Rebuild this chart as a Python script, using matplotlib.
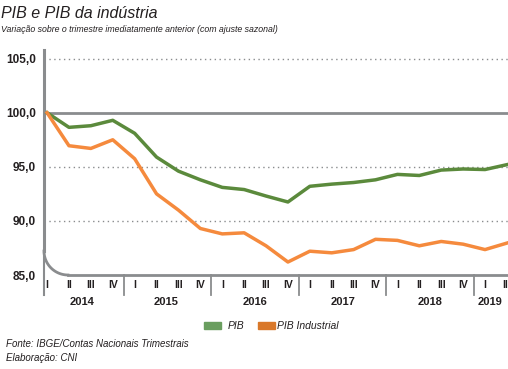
import numpy as np
import matplotlib.pyplot as plt
from matplotlib.patches import Rectangle

# quarterly index, 1st quarter 2014 = 100
quarters = ["I", "II", "III", "IV"] * 5 + ["I", "II"]
years = ["2014", "2015", "2016", "2017", "2018", "2019"]
pib = [100.0, 98.65, 98.8, 99.3, 98.1, 95.9, 94.6, 93.8, 93.1, 92.9, 92.3,
       91.75, 93.2, 93.4, 93.55, 93.8, 94.3, 94.2, 94.7, 94.8, 94.75, 95.2]
pib_ind = [100.0, 96.95, 96.7, 97.5, 95.75, 92.5, 91.0, 89.3, 88.8, 88.9,
           87.7, 86.2, 87.2, 87.05, 87.35, 88.3, 88.2, 87.7, 88.1, 87.85,
           87.35, 87.95]
yticks = [85, 90, 95, 100, 105]

GRAY = '#8a8c8e'
GREEN = '#5b8a3c'
ORANGE = '#f58a3d'
TXT = '#231f20'

plt.rcParams['font.family'] = ['Liberation Sans', 'DejaVu Sans']

fig = plt.figure(figsize=(5.08, 3.69), dpi=100)
W, H = 508, 369
# axes placed in pixel terms: left 44, right 508, top 50, bottom 275
ax = fig.add_axes([44 / W, 1 - 275 / H, (508 - 44) / W, (275 - 50) / H])

x = np.arange(len(pib))
x0, x1 = -0.14, 21.05
y0, y1 = 85, 105.8
ax.set_xlim(x0, x1)
ax.set_ylim(y0, y1)
px = (x1 - x0) / 464   # data units per pixel
py = (y1 - y0) / 225

# gridlines
for v in [90, 95, 105]:
    ax.axhline(v, color=GRAY, linestyle=(0, (1, 2.5)), linewidth=1.0, zorder=1)
ax.axhline(100, color=GRAY, linewidth=2.0, zorder=2)

# rounded corner joining the y axis to the baseline
r = 24
t = np.linspace(0, np.pi / 2, 40)
cx = x0 + (r - r * np.cos(t)) * px
cy = y0 + (r - r * np.sin(t)) * py
ax.plot(cx, cy, color=GRAY, linewidth=2.0, clip_on=False, zorder=2)
ax.plot([x0 + r * px, x1], [y0, y0], color=GRAY, linewidth=2.0, clip_on=False, zorder=2)

# vertical axis line (thicker above the corner, thinner below)
ax.plot([x0, x0], [y0 + r * py, y1], color=GRAY, linewidth=2.2, clip_on=False, zorder=3)
ax.plot([x0, x0], [y0 - 20 * py, y0 + r * py], color=GRAY, linewidth=1.5,
        clip_on=False, zorder=3)

# year separators
for sx in [3.5, 7.5, 11.5, 15.5, 19.5]:
    ax.plot([sx, sx], [y0 - 20 * py, y0], color=GRAY, linewidth=1.3, clip_on=False)

ax.plot(x, pib, color=GREEN, linewidth=2.5, zorder=4, solid_joinstyle='round')
ax.plot(x, pib_ind, color=ORANGE, linewidth=2.5, zorder=4, solid_joinstyle='round')

for s in ax.spines.values():
    s.set_visible(False)
ax.set_xticks([])
ax.set_yticks(yticks)
ax.set_yticklabels([f"{v},0" for v in yticks], fontweight='bold', fontsize=8.5,
                   color=TXT)
ax.tick_params(axis='y', length=0, pad=6)

# quarter and year labels (last one nudged so it stays inside the figure)
for i, q in enumerate(quarters):
    xi = min(i, 20.9)
    ax.text(xi, y0 - 10 * py, q, ha='center', va='center', fontsize=7.5,
            fontweight='bold', color=TXT)
year_pos = [1.6, 5.45, 9.5, 13.5, 17.5, 20.25]
for xp, yr in zip(year_pos, years):
    ax.text(xp, y0 - 27 * py, yr, ha='center', va='center', fontsize=8,
            fontweight='bold', color=TXT)

# title and subtitle
fig.text(1 / W, 1 - 13 / H, "PIB e PIB da indústria", fontsize=11.5,
         style='italic', color=TXT, va='center')
fig.text(1 / W, 1 - 29 / H,
         "Variação sobre o trimestre imediatamente anterior (com ajuste sazonal)",
         fontsize=6.3, style='italic', color=TXT, va='center')

# legend
fig.patches.append(Rectangle((204 / W, 1 - 329 / H), 17 / W, 7 / H,
                             transform=fig.transFigure, color='#6a9e5f'))
fig.text(228 / W, 1 - 326 / H, "PIB", fontsize=7.5, style='italic', va='center',
         color=TXT)
fig.patches.append(Rectangle((258 / W, 1 - 329 / H), 17 / W, 7 / H,
                             transform=fig.transFigure, color='#d9782a'))
fig.text(277 / W, 1 - 326 / H, "PIB Industrial", fontsize=7.5, style='italic',
         va='center', color=TXT)

# source
fig.text(6 / W, 1 - 344 / H, "Fonte: IBGE/Contas Nacionais Trimestrais",
         fontsize=7, style='italic', va='center', color=TXT)
fig.text(6 / W, 1 - 358 / H, "Elaboração: CNI", fontsize=7, style='italic',
         va='center', color=TXT)

plt.savefig('out.png', dpi=100)
